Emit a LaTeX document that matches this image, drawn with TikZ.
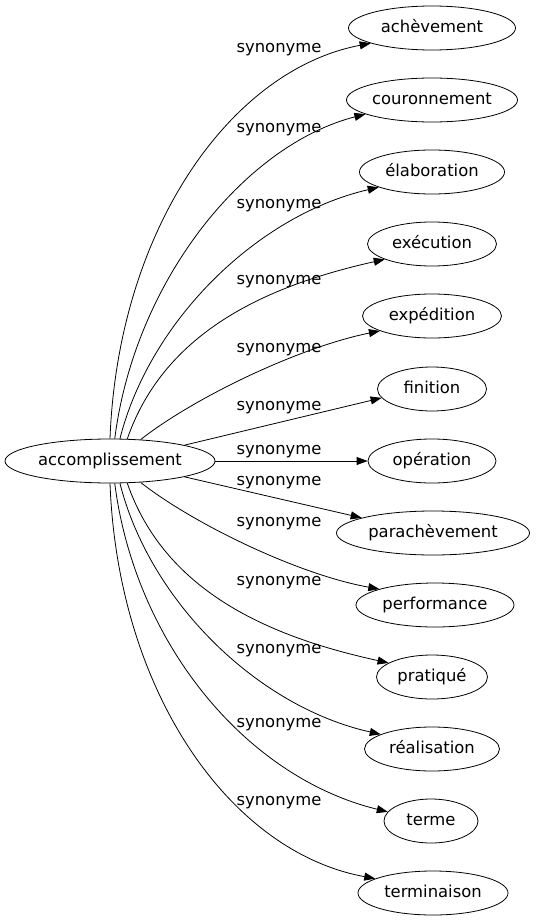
\documentclass[tikz,border=0pt]{standalone}
\usepackage{fontspec}
\setmainfont{DejaVu Sans}
\usepackage{tikz}
\usetikzlibrary{shapes,shapes.geometric,arrows.meta,positioning}

\begin{document}
\begin{tikzpicture}[x=1pt,y=-1pt]
	\tikzstyle{every node}=[font=\fontsize{16.4}{19}\selectfont, text height=12pt, text depth=3.5pt, inner sep=0pt]
	\tikzstyle{mot}=[ellipse, draw, line width=0.8pt, minimum height=44pt]
	\tikzstyle{syn}=[line width=0.8pt, -{Triangle[length=11pt,width=8pt]}]
	\useasboundingbox (0,0) rectangle (537,923);
	% noeuds
	\node[mot, minimum width=210pt] (acc) at (110,461) {accomplissement};
	\node[mot, minimum width=167pt] (ach) at (432,28) {achèvement};
	\node[mot, minimum width=171pt] (cou) at (432,100) {couronnement};
	\node[mot, minimum width=145pt] (ela) at (432,172) {élaboration};
	\node[mot, minimum width=129pt] (exe) at (432,244) {exécution};
	\node[mot, minimum width=139pt] (exp) at (432,316) {expédition};
	\node[mot, minimum width=109pt] (fin) at (432,389) {finition};
	\node[mot, minimum width=128pt] (ope) at (432,461) {opération};
	\node[mot, minimum width=193pt] (par) at (433,533) {parachèvement};
	\node[mot, minimum width=158pt] (per) at (435,605) {performance};
	\node[mot, minimum width=111pt] (pra) at (432,677) {pratiqué};
	\node[mot, minimum width=135pt] (rea) at (432,749) {réalisation};
	\node[mot, minimum width=94pt] (ter) at (431,821) {terme};
	\node[mot, minimum width=150pt] (tmn) at (433,893) {terminaison};
	% aretes
	\draw[syn] (acc.90) .. controls (118,230) and (230,70) .. (ach.194);
	\draw[syn] (acc.78) .. controls (135,280) and (245,145) .. (cou.192);
	\draw[syn] (acc.66) .. controls (150,320) and (258,215) .. (ela.196);
	\draw[syn] (acc.52) .. controls (165,330) and (270,285) .. (exe.198);
	\draw[syn] (acc.35) .. controls (195,397) and (300,347) .. (exp.196);
	\draw[syn] (acc.12) -- (fin.190);
	\draw[syn] (acc.east) -- (ope.west);
	\draw[syn] (acc.-12) -- (par.168);
	\draw[syn] (acc.-35) .. controls (195,525) and (300,575) .. (per.164);
	\draw[syn] (acc.-52) .. controls (165,592) and (270,637) .. (pra.162);
	\draw[syn] (acc.-66) .. controls (150,602) and (258,707) .. (rea.164);
	\draw[syn] (acc.-78) .. controls (135,642) and (245,777) .. (ter.168);
	\draw[syn] (acc.-90) .. controls (118,692) and (230,852) .. (tmn.166);
	% etiquettes
	\node (s1) at (279,48) {synonyme};
	\node (s2) at (279,128) {synonyme};
	\node (s3) at (279,204) {synonyme};
	\node (s4) at (279,280) {synonyme};
	\node (s5) at (279,348) {synonyme};
	\node (s6) at (279,406) {synonyme};
	\node (s7) at (279,450) {synonyme};
	\node (s8) at (279,481) {synonyme};
	\node (s9) at (279,522) {synonyme};
	\node (s10) at (279,581) {synonyme};
	\node (s11) at (279,649) {synonyme};
	\node (s12) at (279,723) {synonyme};
	\node (s13) at (279,801) {synonyme};
\end{tikzpicture}
\end{document}
